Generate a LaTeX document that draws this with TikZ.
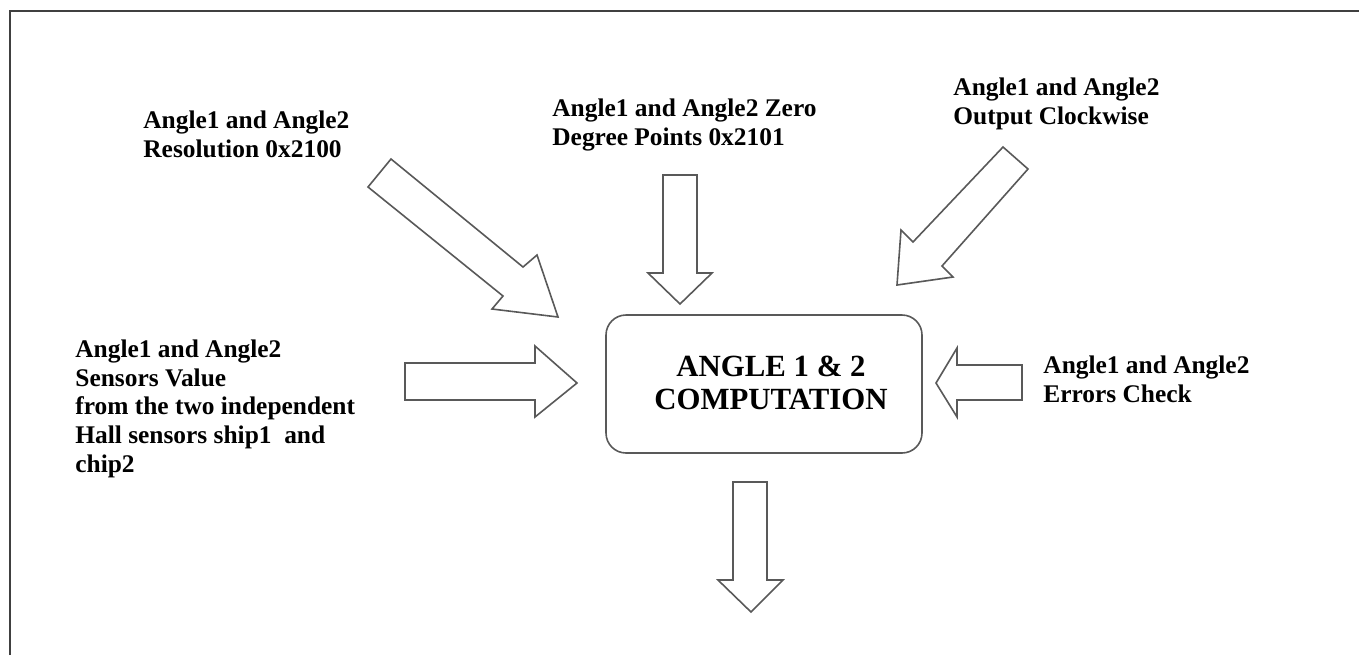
\documentclass[tikz,border=0pt]{standalone}
\usepackage{fontspec}
\setmainfont{Liberation Serif}
\begin{document}
\begin{tikzpicture}[x=0.5pt,y=-0.5pt,
  frameline/.style={draw=black!75, line width=1pt},
  blockarrow/.style={draw=black!65, line width=0.8pt, line join=miter, fill=white},
  lbl/.style={anchor=base west, inner sep=0pt, align=left, text=black,
    font={\fontsize{12.7}{14.3}\selectfont\bfseries}},
  compbox/.style={draw=black!65, line width=0.8pt, rounded corners=10pt,
    minimum width=158pt, minimum height=69pt, inner sep=0pt},
  comptext/.style={anchor=base, inner sep=0pt, align=center, text=black,
    font={\fontsize{15.4}{16.5}\selectfont\bfseries}}]
\useasboundingbox (0,0) rectangle (1359,655);
% frame (top and left edges)
\coordinate (fbl) at (10,655);
\coordinate (ftl) at (10,11);
\coordinate (ftr) at (1359,11);
\draw[frameline] (fbl) -- (ftl) -- (ftr);

% central box
\node[compbox] (comp) at (764,384) {};
\node[comptext] (comptxt) at (771,409) {ANGLE 1 \& 2\\COMPUTATION};

% labels (anchored at the baseline of their last line)
\node[lbl] (res) at (143,157) {Angle1 and Angle2\\Resolution 0x2100};
\node[lbl] (zero) at (552,145) {Angle1 and Angle2 Zero\\Degree Points 0x2101};
\node[lbl] (cw) at (953,124) {Angle1 and Angle2\\Output Clockwise};
\node[lbl] (sens) at (75,472) {Angle1 and Angle2\\Sensors Value\\from the two independent\\Hall sensors ship1\ \ and\\chip2};
\node[lbl] (err) at (1043,402) {Angle1 and Angle2\\Errors Check};

% block arrows
% from resolution (diagonal)
\draw[blockarrow] (391,159) -- (523,267) -- (537,255) -- (558,317) -- (492,309) -- (503,296) -- (368,187) -- cycle;
% from zero degree (down)
\draw[blockarrow] (663,175) -- (697,175) -- (697,273) -- (712,273) -- (680,304) -- (648,273) -- (663,273) -- cycle;
% from clockwise (diagonal)
\draw[blockarrow] (1003,147) -- (913,242) -- (901,230) -- (897,285) -- (953,277) -- (942,266) -- (1028,169) -- cycle;
% from sensors (right)
\draw[blockarrow] (405,363) -- (535,363) -- (535,346) -- (577,383) -- (535,417) -- (535,400) -- (405,400) -- cycle;
% from errors (left)
\draw[blockarrow] (1022,365) -- (957,365) -- (957,348) -- (936,383) -- (957,417) -- (957,400) -- (1022,400) -- cycle;
% output (down)
\draw[blockarrow] (733,482) -- (767,482) -- (767,580) -- (783,580) -- (751,612) -- (718,580) -- (733,580) -- cycle;
\end{tikzpicture}
\end{document}
